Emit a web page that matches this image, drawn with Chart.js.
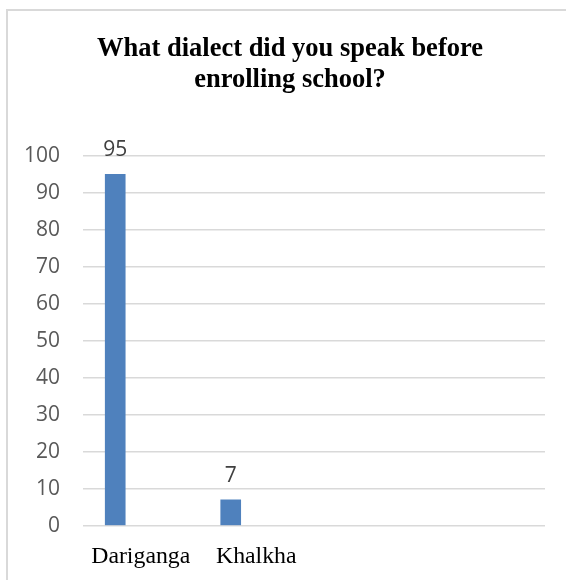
<!DOCTYPE html>
<html>
<head>
<meta charset="utf-8">
<script src="https://cdn.jsdelivr.net/npm/chart.js"></script>
<style>
  html, body { margin: 0; padding: 0; background: #fff; overflow: hidden; }
  #frame { position: absolute; left: 6px; top: 9px; width: 620px; height: 620px; border: 2px solid #d9d9d9; box-sizing: border-box; }
  #chart { position: absolute; left: 0; top: 0; }
</style>
</head>
<body>
<div id="frame"></div>
<canvas id="chart" width="566" height="580"></canvas>
<script>
const titleLines = ["What dialect did you speak before", "enrolling school?"];
const categories = ["Dariganga", "Khalkha", "", ""];
const counts = [95, 7];
const yTicks = [0, 10, 20, 30, 40, 50, 60, 70, 80, 90, 100];

// value labels above the bars
const barLabels = {
  id: "barLabels",
  afterLayout(chart) {
    // title is centred on the whole chart frame, not the plot
    if (chart.titleBlock) {
      chart.titleBlock.left = 35;
      chart.titleBlock.right = 545;
    }
  },
  afterDatasetsDraw(chart) {
    const ctx = chart.ctx;
    const meta = chart.getDatasetMeta(0);
    ctx.save();
    ctx.font = "21px 'Open Sans'";
    ctx.fillStyle = "#404040";
    ctx.textAlign = "center";
    ctx.textBaseline = "alphabetic";
    meta.data.forEach((bar, i) => {
      ctx.fillText(String(counts[i]), bar.x, bar.y - 18);
    });
    ctx.restore();
  }
};

const ctx = document.getElementById("chart").getContext("2d");
new Chart(ctx, {
  type: "bar",
  data: {
    labels: categories,
    datasets: [{
      label: "Count",
      data: counts.map((v, i) => ({ x: i, y: v })),
      xAxisID: "xb",
      backgroundColor: "#4f81bd",
      barThickness: 20
    }]
  },
  options: {
    responsive: false,
    animation: false,
    layout: { padding: { left: 10, right: 21, top: 0, bottom: 0 } },
    plugins: {
      legend: { display: false },
      tooltip: { enabled: false },
      title: {
        display: true,
        text: titleLines,
        color: "#000",
        font: { family: "'Liberation Serif', 'Times New Roman', serif", size: 26.5, weight: "bold", lineHeight: 1.16 },
        padding: { top: 34, bottom: 60.3 }
      }
    },
    scales: {
      x: {
        type: "category",
        offset: true,
        grid: { display: false },
        border: { display: false },
        ticks: {
          color: "#000",
          font: { family: "'Liberation Serif', 'Times New Roman', serif", size: 23.8 },
          padding: 9,
          maxRotation: 0,
          autoSkip: false
        },
        afterFit(scale) { scale.height = 54.3; }
      },
      xb: {
        type: "linear",
        display: false,
        offset: false,
        min: -0.279,
        max: 3.721
      },
      y: {
        min: 0,
        max: 100,
        afterBuildTicks(scale) { scale.ticks = yTicks.map(v => ({ value: v })); },
        grid: { color: "#d9d9d9", lineWidth: 1.5, drawTicks: false },
        border: { display: false },
        ticks: {
          color: "#595959",
          font: { family: "'Open Sans', sans-serif", size: 21 },
          padding: 23
        },
        afterFit(scale) { scale.width = 73; }
      }
    }
  },
  plugins: [barLabels]
});
</script>
</body>
</html>
